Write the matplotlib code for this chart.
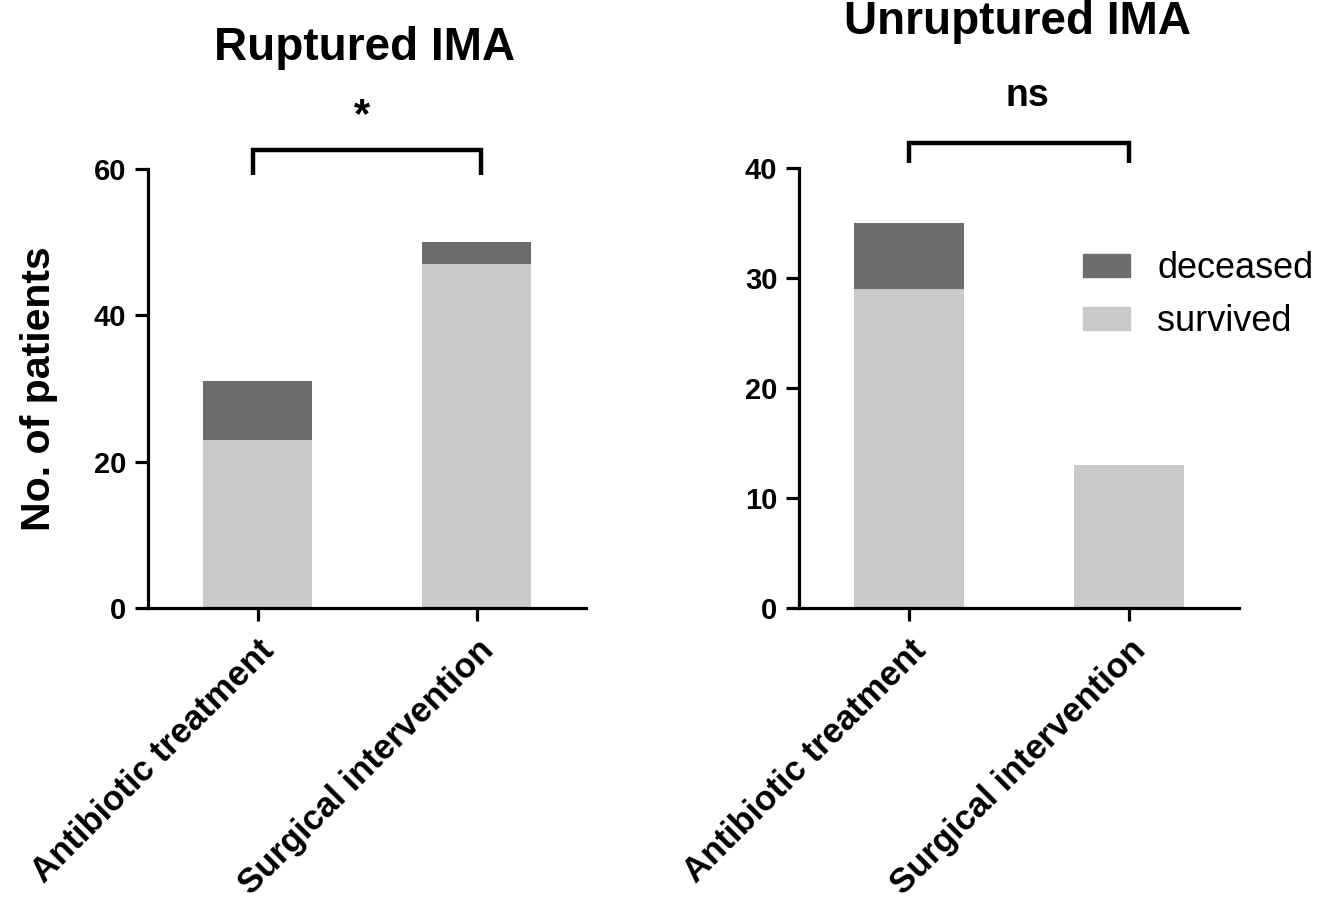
import numpy as np
import matplotlib
matplotlib.use("Agg")
import matplotlib.pyplot as plt
from matplotlib.patches import Patch

plt.rcParams['font.family'] = ['Liberation Sans', 'DejaVu Sans']

groups = ['Antibiotic treatment', 'Surgical intervention']

# Ruptured IMA
rup_survived = [23, 47]
rup_deceased = [8, 3]

# Unruptured IMA
unrup_survived = [29, 13]
unrup_deceased = [6, 0]

c_dead = '#6d6d6d'
c_alive = '#c9c9c9'

fig = plt.figure(figsize=(13.17, 9.08), dpi=100)
W, H = 1317, 908

def add_ax(x0, x1, ytop):
    return fig.add_axes([x0 / W, (H - 608) / H, (x1 - x0) / W, (608 - ytop) / H])

ax1 = add_ax(148, 586, 169)
ax2 = add_ax(799, 1239, 168)

def style(ax, ymax, yticks):
    x = np.arange(len(groups))
    for s in ['top', 'right']:
        ax.spines[s].set_visible(False)
    for s in ['left', 'bottom']:
        ax.spines[s].set_linewidth(2.3)
    ax.set_xlim(-0.5, 1.5)
    ax.set_ylim(0, ymax)
    ax.set_yticks(yticks)
    ax.set_xticks(x)
    ax.set_xticklabels(groups, rotation=45, ha='right', va='top',
                       rotation_mode='anchor', fontsize=25, fontweight='bold')
    ax.tick_params(axis='both', length=9.5, width=2.3, direction='out')
    ax.tick_params(axis='y', labelsize=21, pad=6)
    ax.tick_params(axis='x', pad=9)
    for lab in ax.get_yticklabels():
        lab.set_fontweight('bold')

def bracket(ax, x0, x1, y, tip, txt, ty, tx, size):
    ax.plot([x0, x0, x1, x1], [tip, y, y, tip], color='black', lw=3.2,
            clip_on=False, solid_capstyle='butt', solid_joinstyle='miter')
    ax.text(tx, ty, txt, ha='center', va='center', fontsize=size,
            fontweight='bold', clip_on=False)

x = np.arange(len(groups))
w = 0.5

ax1.bar(x, rup_survived, w, color=c_alive, label='survived')
ax1.bar(x, rup_deceased, w, bottom=rup_survived, color=c_dead, label='deceased')
style(ax1, 60, [0, 20, 40, 60])
ax1.set_ylabel('No. of patients', fontsize=29.5, fontweight='bold', labelpad=26)
bracket(ax1, -0.02, 1.02, 62.6, 59.2, '*', 67.3, 0.475, 30)

ax2.bar(x, unrup_survived, w, color=c_alive, label='survived')
ax2.bar(x, unrup_deceased, w, bottom=unrup_survived, color=c_dead, label='deceased')
style(ax2, 40, [0, 10, 20, 30, 40])
bracket(ax2, 0.0, 1.0, 42.3, 40.45, 'ns', 46.5, 0.54, 27)

handles = [Patch(color=c_dead, label='deceased'), Patch(color=c_alive, label='survived')]
ax2.legend(handles=handles, loc='upper left', bbox_to_anchor=(0.6455, 0.811),
           frameon=False, fontsize=26, handlelength=1.3, handleheight=0.6,
           handletextpad=0.75, labelspacing=0.5, borderpad=0, borderaxespad=0)

fig.text(365 / W, 1 - 60 / H, 'Ruptured IMA', ha='center', va='baseline',
         fontsize=33, fontweight='bold')
fig.text(1018 / W, 1 - 34 / H, 'Unruptured IMA', ha='center', va='baseline',
         fontsize=33, fontweight='bold')

plt.savefig('out.png', dpi=100)
